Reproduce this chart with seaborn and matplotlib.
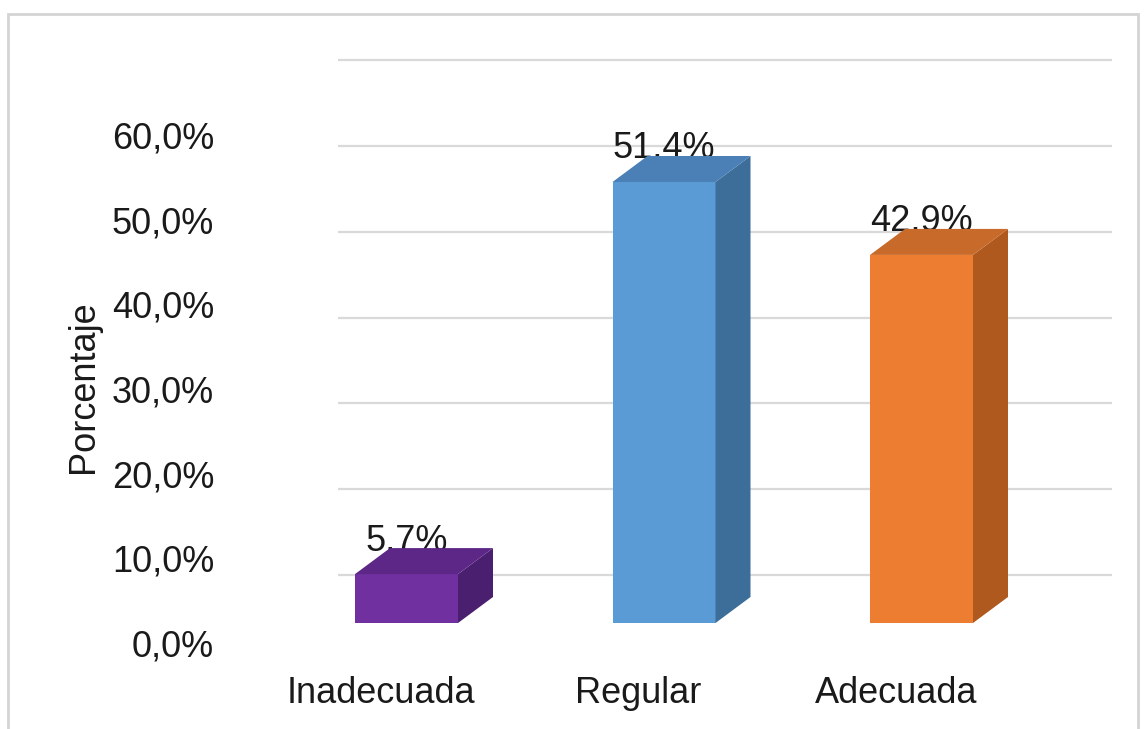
import matplotlib
matplotlib.use("Agg")
import matplotlib.pyplot as plt
from matplotlib.patches import Polygon, Rectangle
import seaborn as sns
import pandas as pd
import numpy as np

# ---------------- data ----------------
categories = ["Inadecuada", "Regular", "Adecuada"]
values = [5.7, 51.4, 42.9]
value_labels = ["5,7%", "51,4%", "42,9%"]
tick_values = [0, 10, 20, 30, 40, 50, 60]
tick_labels = ["0,0%", "10,0%", "20,0%", "30,0%", "40,0%", "50,0%", "60,0%"]
ylabel = "Porcentaje"

# ---------------- styles ----------------
front_colors = ["#7030a0", "#5b9bd5", "#ed7d31"]
side_colors = ["#4b1f70", "#3d6d99", "#b0591f"]
top_colors = ["#5c2787", "#4a80b6", "#c86a2a"]
grid_color = "#d9d9d9"
FONT = "Liberation Sans"
FS = 26

# ---------------- layout (pixels) ----------------
W, H, DPI = 1148, 729, 100
CAT0_PX, CAT_STEP_PX = 406.5, 257.5       # x centre of first bar, spacing
ZERO_PX, UNIT_PX = 623.0, 8.58            # y (from top) of value 0, px per %
AX_LEFT, AX_RIGHT, AX_TOP, AX_BOTTOM = 228, 1148, 0, 672
DEPTH_DX = 35 / CAT_STEP_PX               # depth offset in category units
DEPTH_DY = 26 / UNIT_PX                   # depth offset in % units
BACK_SHIFT = 48 / UNIT_PX                 # back wall gridlines shift
GRID_X0 = (338 - CAT0_PX) / CAT_STEP_PX
GRID_X1 = (1112 - CAT0_PX) / CAT_STEP_PX

sns.set_theme(style="white")
plt.rcParams["font.family"] = [FONT, "DejaVu Sans"]

fig = plt.figure(figsize=(W / DPI, H / DPI), dpi=DPI)
fig.patch.set_facecolor("white")
ax = fig.add_axes([AX_LEFT / W, 1 - AX_BOTTOM / H,
                   (AX_RIGHT - AX_LEFT) / W, (AX_BOTTOM - AX_TOP) / H])
ax.set_facecolor("none")

df = pd.DataFrame({"cat": categories, "val": values})
sns.barplot(data=df, x="cat", y="val", hue="cat", palette=front_colors,
            width=0.4, dodge=False, legend=False, ax=ax, zorder=3,
            linewidth=0, saturation=1)

ax.set_xlim((AX_LEFT - CAT0_PX) / CAT_STEP_PX, (AX_RIGHT - CAT0_PX) / CAT_STEP_PX)
ax.set_ylim((ZERO_PX - AX_BOTTOM) / UNIT_PX, (ZERO_PX - AX_TOP) / UNIT_PX)

# back-wall gridlines
ax.hlines(np.array(tick_values) + BACK_SHIFT, GRID_X0, GRID_X1,
          color=grid_color, linewidth=1.6, zorder=1)

# 3D faces and value labels
for i, p in enumerate(ax.patches[:len(values)]):
    x0 = p.get_x()
    w = p.get_width()
    h = p.get_height()
    x1 = x0 + w
    side = Polygon([(x1, 0), (x1 + DEPTH_DX, DEPTH_DY),
                    (x1 + DEPTH_DX, h + DEPTH_DY), (x1, h)],
                   closed=True, facecolor=side_colors[i], edgecolor="none", zorder=4)
    top = Polygon([(x0, h), (x1, h), (x1 + DEPTH_DX, h + DEPTH_DY),
                   (x0 + DEPTH_DX, h + DEPTH_DY)],
                  closed=True, facecolor=top_colors[i], edgecolor="none", zorder=4)
    ax.add_patch(side)
    ax.add_patch(top)
    ax.text(x0 + w / 2, h + 2.8, value_labels[i], ha="center", va="baseline",
            fontsize=FS, color="#1a1a1a", zorder=3.5)

# y tick labels (front-left edge of the 3D axis)
tick_pos = [(ZERO_PX - (643 - v * 8.47)) / UNIT_PX for v in tick_values]
ax.set_yticks(tick_pos, tick_labels)
ax.tick_params(axis="y", length=0, pad=10, labelsize=FS, labelcolor="#1a1a1a")

# category labels
ax.set_xticks([i - 0.1 for i in range(len(categories))], categories)
ax.tick_params(axis="x", length=0, pad=3, labelsize=FS, labelcolor="#1a1a1a")
ax.set_xlabel("")
ax.set_ylabel("")
for s in ax.spines.values():
    s.set_visible(False)

fig.text(83 / W, 1 - 387 / H, ylabel, rotation=90, ha="center", va="center",
         fontsize=FS, color="#1a1a1a")

# chart border
fig.patches.append(Rectangle((8 / W, -0.02), (1138 - 8) / W, 1 - 14 / H + 0.02,
                             transform=fig.transFigure, facecolor="none",
                             edgecolor="#d4d4d4", linewidth=2, zorder=0))

fig.savefig("out.png", dpi=DPI, facecolor="white")
